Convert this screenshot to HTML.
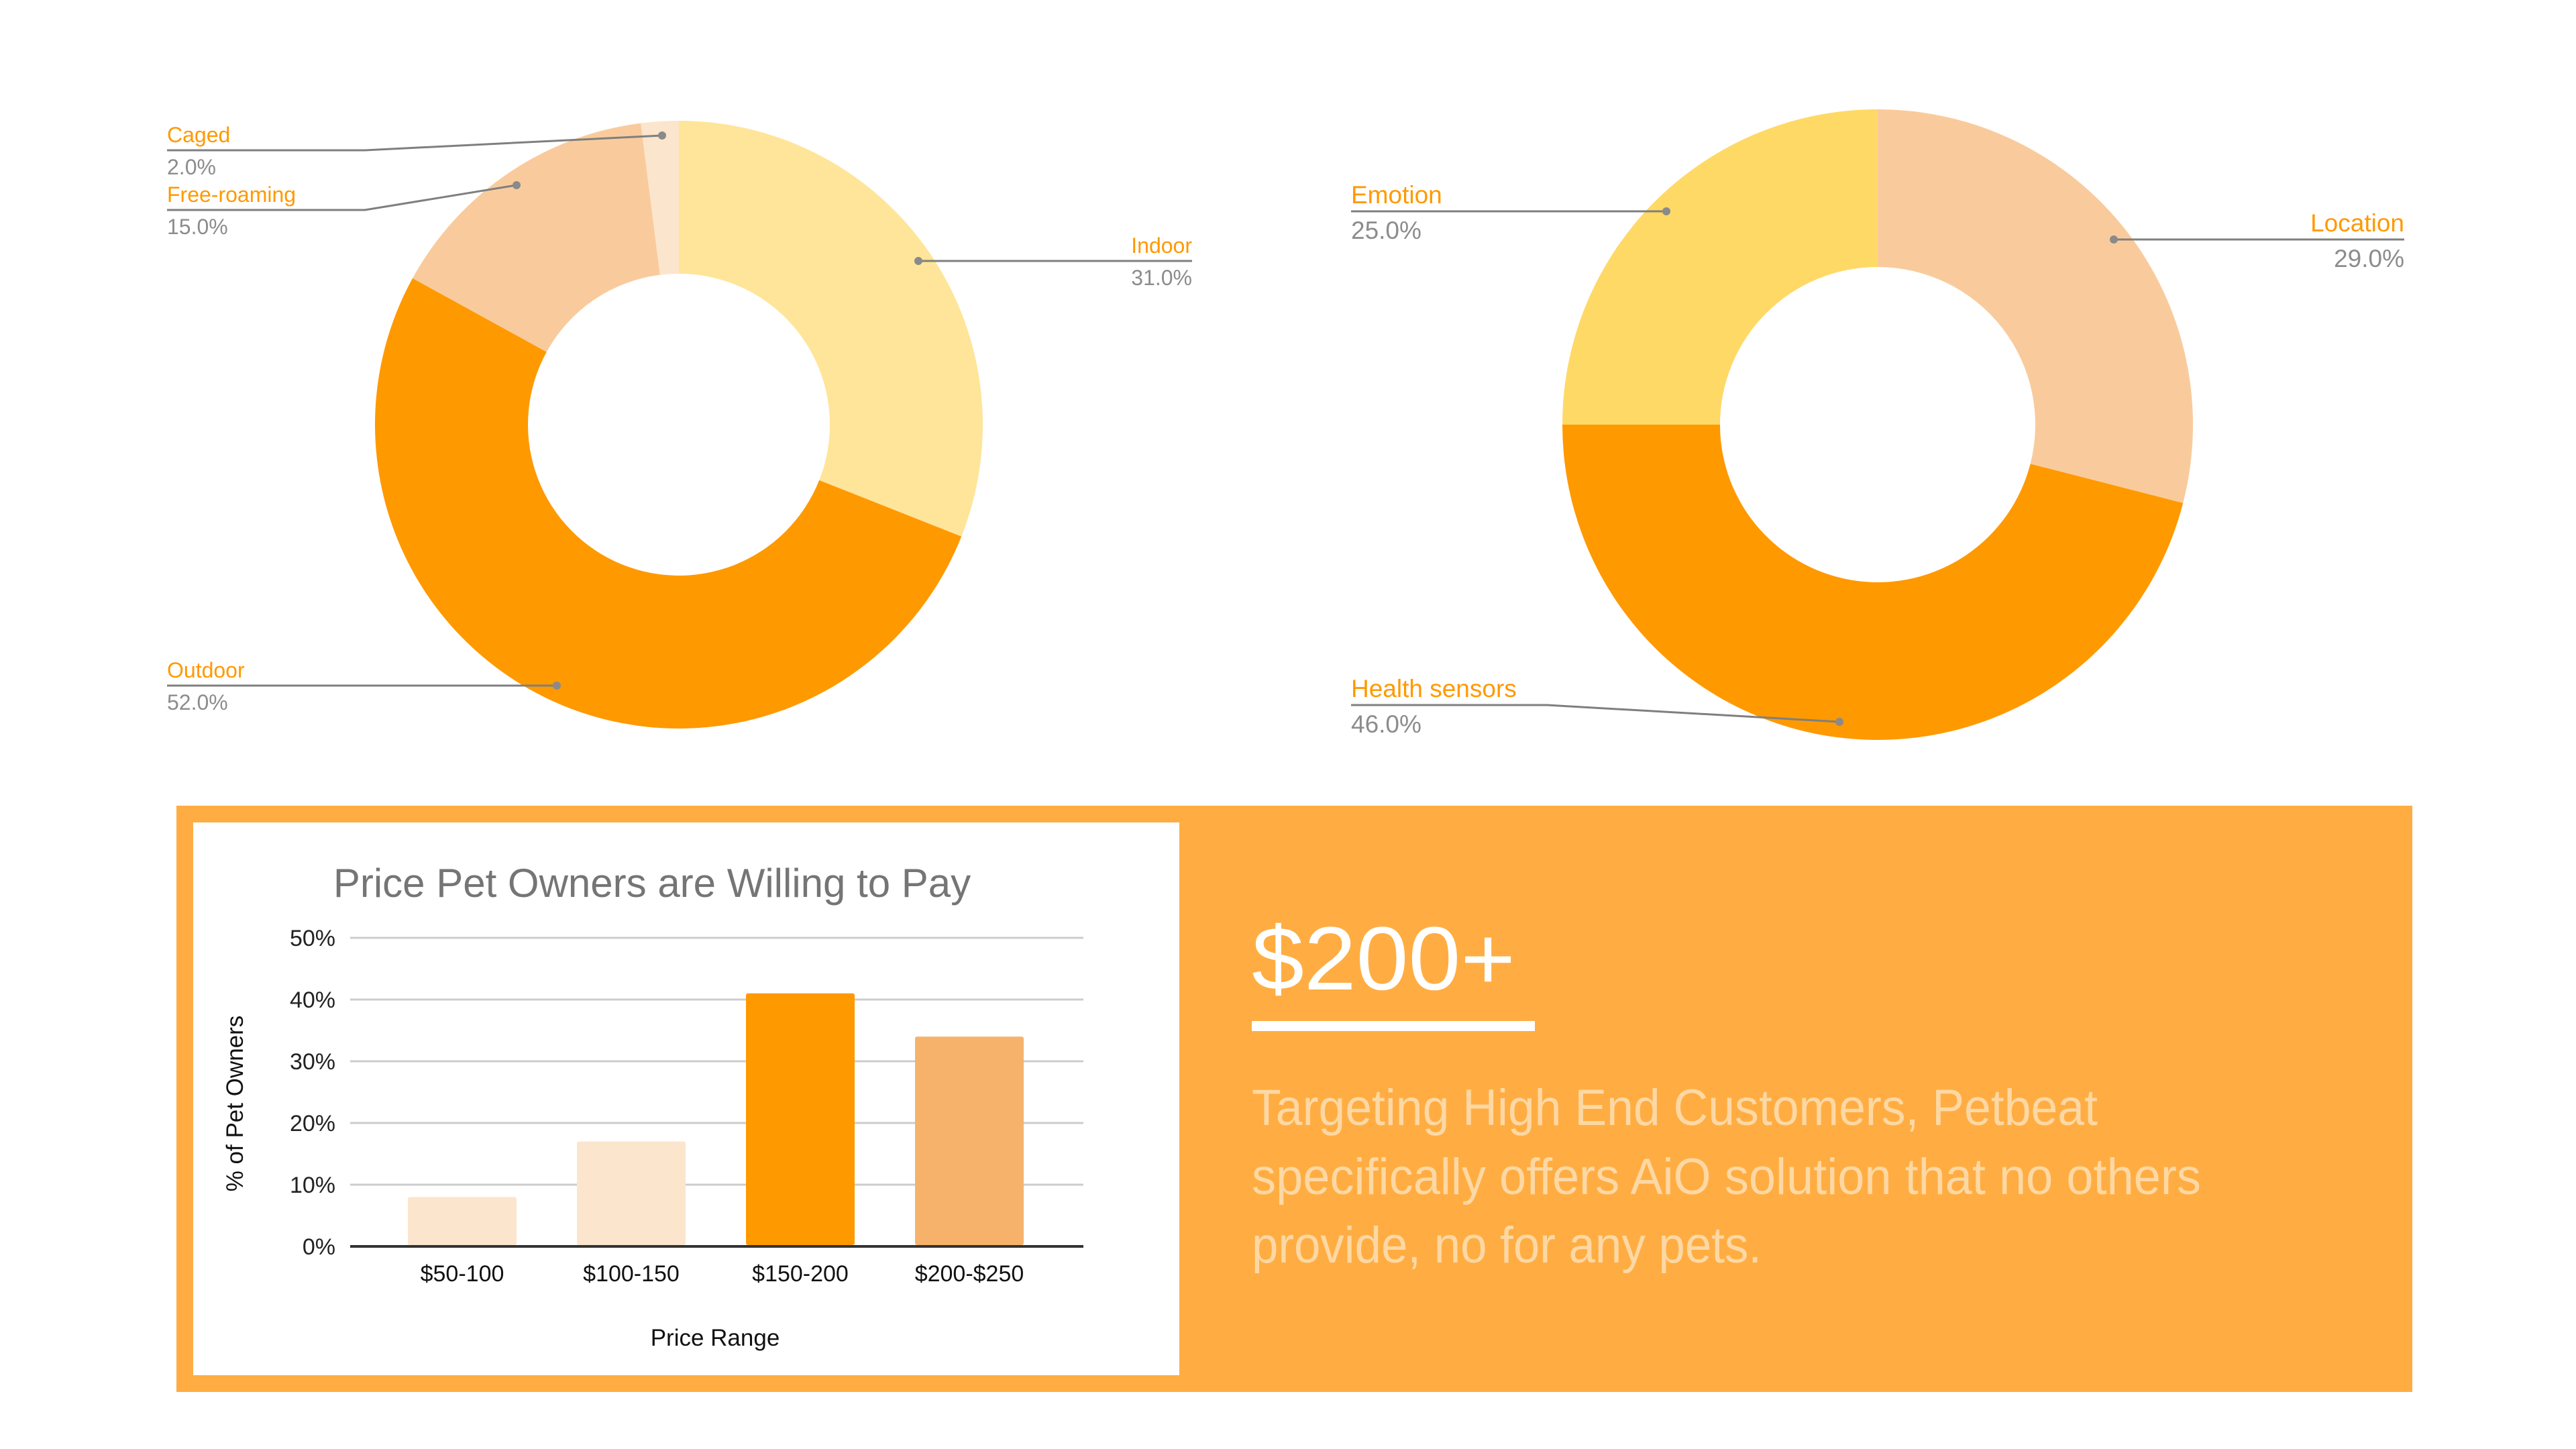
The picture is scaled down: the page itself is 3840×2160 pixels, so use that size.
<!DOCTYPE html>
<html><head><meta charset="utf-8"><style>
html,body{margin:0;padding:0;background:#fff;}
svg{display:block;font-family:"Liberation Sans",sans-serif;}
</style></head><body>
<svg id="svg" width="3840" height="2160" viewBox="0 0 3840 2160" xmlns="http://www.w3.org/2000/svg">
<g id="donut1"></g>
<g id="donut2"></g>
<rect x="263" y="1201" width="3333" height="874" fill="#FFAD42"/>
<rect x="288" y="1226" width="1470" height="824" fill="#fff"/>
<g id="bars"></g>
<text x="1866" y="1475" font-size="134" fill="#fff" textLength="393" lengthAdjust="spacingAndGlyphs">$200+</text>
<rect x="1866" y="1522" width="422" height="15" fill="#fff"/>
<g fill="#FDD8A4" font-size="76">
<text x="1866" y="1677" textLength="1261" lengthAdjust="spacingAndGlyphs">Targeting High End Customers, Petbeat</text>
<text x="1866" y="1780" textLength="1415" lengthAdjust="spacingAndGlyphs">specifically offers AiO solution that no others</text>
<text x="1866" y="1882" textLength="760" lengthAdjust="spacingAndGlyphs">provide, no for any pets.</text>
</g>
</svg>
<script>
const NS="http://www.w3.org/2000/svg";
const housingLabels=["Indoor","Outdoor","Free-roaming","Caged"];
const housingValues=[31,52,15,2];
const housingColors=["#FFE599","#FF9900","#F9CB9C","#FCE5CD"];
const featureLabels=["Location","Health sensors","Emotion"];
const featureValues=[29,46,25];
const featureColors=["#F9CB9C","#FF9900","#FFD966"];
const priceCategories=["$50-100","$100-150","$150-200","$200-$250"];
const priceValues=[8,17,41,34];
const priceColors=["#FCE5CD","#FCE5CD","#FF9900","#F6B26B"];
const yTicks=[0,10,20,30,40,50];

function mk(tag,attrs,parent){const e=document.createElementNS(NS,tag);for(const k in attrs)e.setAttribute(k,attrs[k]);parent.appendChild(e);return e;}

function donut(g,cx,cy,R,r,vals,cols,names,callouts,fs){
  const tot=vals.reduce((a,b)=>a+b,0);let a0=0;
  vals.forEach((v,i)=>{
    const a1=a0+v/tot*2*Math.PI;
    const p=(a,rad)=>[cx+rad*Math.sin(a),cy-rad*Math.cos(a)];
    const [x1,y1]=p(a0,R),[x2,y2]=p(a1,R),[x3,y3]=p(a1,r),[x4,y4]=p(a0,r);
    const lg=(a1-a0)>Math.PI?1:0;
    const path=mk("path",{d:`M${x1} ${y1}A${R} ${R} 0 ${lg} 1 ${x2} ${y2}L${x3} ${y3}A${r} ${r} 0 ${lg} 0 ${x4} ${y4}Z`,fill:cols[i]},g);
    
    
    const c=callouts[i];
    const pts=c.pts.map(q=>q.join(",")).join(" ");
    mk("polyline",{points:pts,fill:"none",stroke:"#7f7f7f","stroke-width":3},g);
    const d=c.pts[c.dot];mk("circle",{cx:d[0],cy:d[1],r:6,fill:"#8a8a8a"},g);
    const anchor=c.right?"end":"start";
    const t1=mk("text",{x:c.tx,y:c.ly-12,"font-size":fs,fill:"#FF9900","text-anchor":anchor},g);t1.textContent=names[i];
    
    
    const t2=mk("text",{x:c.tx,y:c.ly+fs+4,"font-size":fs,fill:"#8c8c8c","text-anchor":anchor},g);t2.textContent=v.toFixed(1)+"%";
    
    
    a0=a1;
  });
}
donut(document.getElementById("donut1"),1012,633,453,225,housingValues,housingColors,housingLabels,[
 {pts:[[1369,389],[1777,389]],dot:0,tx:1777,ly:389,right:true},
 {pts:[[249,1022],[830,1022]],dot:1,tx:249,ly:1022},
 {pts:[[249,313],[544,313],[770,276]],dot:2,tx:249,ly:313},
 {pts:[[249,224],[544,224],[987,202]],dot:2,tx:249,ly:224}
],32);
donut(document.getElementById("donut2"),2799,633,470,235,featureValues,featureColors,featureLabels,[
 {pts:[[3151,357],[3584,357]],dot:0,tx:3584,ly:357,right:true},
 {pts:[[2014,1051],[2306,1051],[2742,1076]],dot:2,tx:2014,ly:1051},
 {pts:[[2014,315],[2484,315]],dot:1,tx:2014,ly:315}
],37);

// bar chart
const bg=document.getElementById("bars");
const X0=522,X1=1615,Y0=1858,Y1=1398,YMAX=50;
const ys=v=>Y0-(v/YMAX)*(Y0-Y1);
const band=252, bandStart=563;
const xc=i=>bandStart+band*(i+0.5);
yTicks.forEach(t=>{
  const ln=mk("line",{x1:X0,x2:X1,y1:ys(t),y2:ys(t),stroke:t===0?"#333":"#cccccc","stroke-width":t===0?4:3},bg);
  
  
  const tx=mk("text",{x:500,y:ys(t)+12,"font-size":34,fill:"#222","text-anchor":"end"},bg);tx.textContent=t+"%";
  
  
});
priceCategories.forEach((c,i)=>{
  const w=162;
  const r=mk("rect",{x:xc(i)-w/2,y:ys(priceValues[i]),width:w,height:Y0-ys(priceValues[i])-2,fill:priceColors[i],rx:3},bg);
  
  
  const t=mk("text",{x:xc(i),y:1910,"font-size":34,fill:"#111","text-anchor":"middle"},bg);t.textContent=c;
  
  
});
const title=mk("text",{x:972,y:1337,"font-size":60,fill:"#757575","text-anchor":"middle"},bg);title.textContent="Price Pet Owners are Willing to Pay";


const xt=mk("text",{x:1066,y:2006,"font-size":35,fill:"#111","text-anchor":"middle"},bg);xt.textContent="Price Range";


const yt=mk("text",{x:0,y:0,"font-size":35,fill:"#111","text-anchor":"middle",transform:"translate(362,1645) rotate(-90)"},bg);yt.textContent="% of Pet Owners";


</script>
</body></html>
